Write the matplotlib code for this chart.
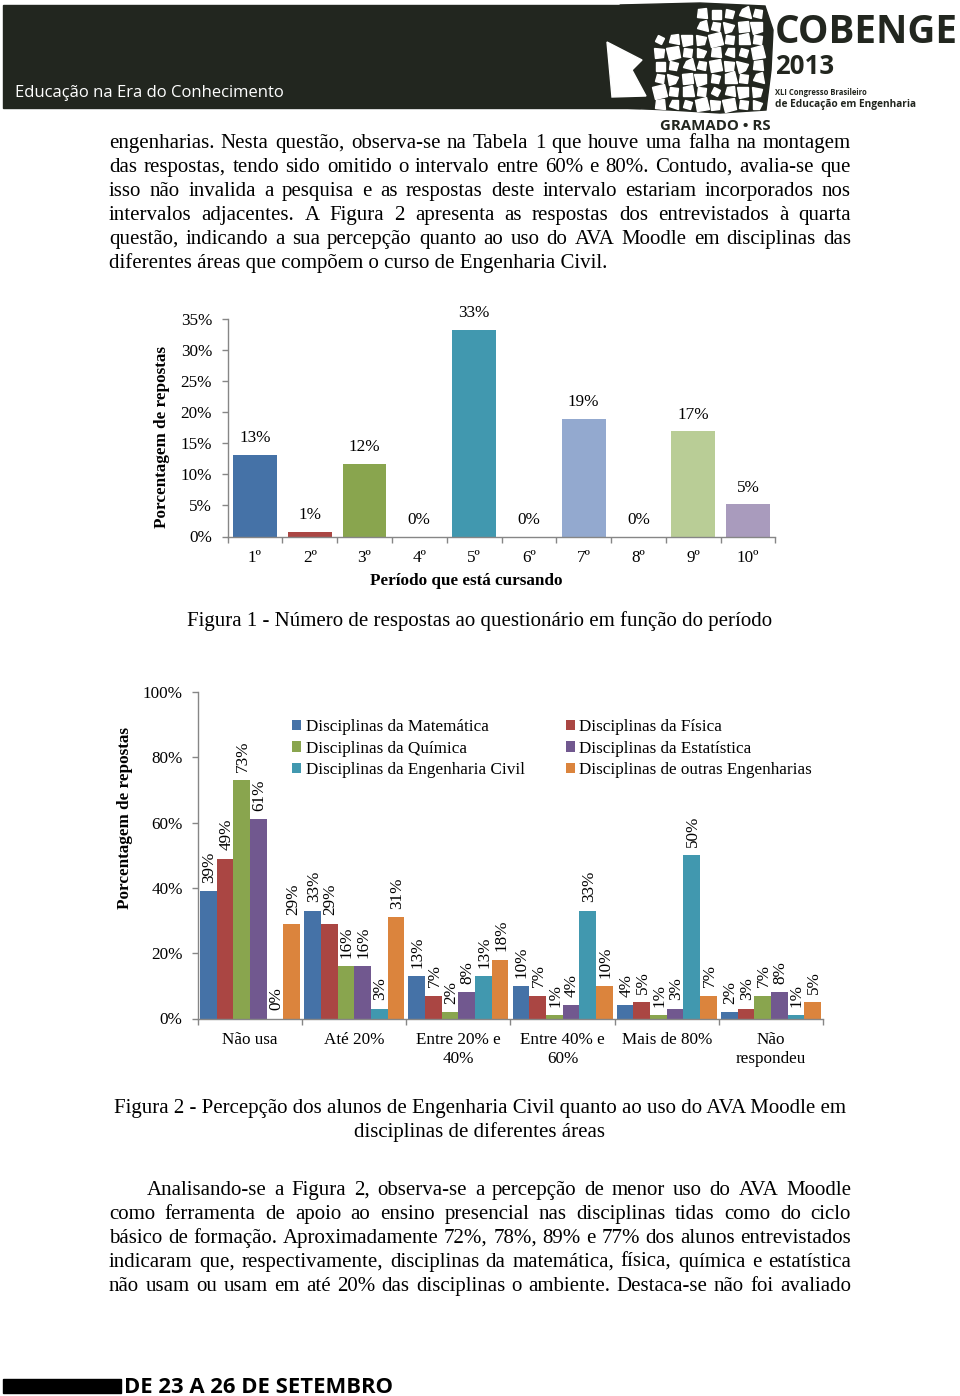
#!/usr/bin/env python3
"""Recreate COBENGE 2013 page with Figuras 1 e 2 (respostas por período / uso do AVA)."""

import numpy as np
import matplotlib

matplotlib.use("Agg")
import matplotlib.pyplot as plt
from matplotlib.font_manager import FontProperties
from matplotlib.patches import Polygon, Rectangle

W, H = 960, 1396

# ---- Figura 1 data ----
periodos = ["1º", "2º", "3º", "4º", "5º", "6º", "7º", "8º", "9º", "10º"]
resp_periodo = [13.1, 0.7, 11.7, 0.0, 33.3, 0.0, 18.9, 0.0, 16.9, 5.2]
cores_periodo = ["#4572A7", "#AA4643", "#89A54E", "#71588F", "#4198AF",
                 "#DB843D", "#93A9CF", "#D19392", "#B9CD96", "#A99BBD"]

# ---- Figura 2 data ----
faixas_uso = ["Não usa", "Até 20%", "Entre 20% e\n40%", "Entre 40% e\n60%",
              "Mais de 80%", "Não\nrespondeu"]
series_nomes = ["Disciplinas da Matemática", "Disciplinas da Física",
                "Disciplinas da Química", "Disciplinas da Estatística",
                "Disciplinas da Engenharia Civil", "Disciplinas de outras Engenharias"]
uso_matematica = [39, 33, 13, 10, 4, 2]
uso_fisica = [49, 29, 7, 7, 5, 3]
uso_quimica = [73, 16, 2, 1, 1, 7]
uso_estatistica = [61, 16, 8, 4, 3, 8]
uso_eng_civil = [0, 3, 13, 33, 50, 1]
uso_outras = [29, 31, 18, 10, 7, 5]
cores_series = ["#4572A7", "#AA4643", "#89A54E", "#71588F", "#4198AF", "#DB843D"]

# ---- page text ----
paragrafo1 = [
    "engenharias. Nesta questão, observa-se na Tabela 1 que houve uma falha na montagem",
    "das respostas, tendo sido omitido o intervalo entre 60% e 80%. Contudo, avalia-se que",
    "isso não invalida a pesquisa e as respostas deste intervalo estariam incorporados nos",
    "intervalos adjacentes. A Figura 2 apresenta as respostas dos entrevistados à quarta",
    "questão, indicando a sua percepção quanto ao uso do AVA Moodle em disciplinas das",
    "diferentes áreas que compõem o curso de Engenharia Civil.",
]
paragrafo2 = [
    "Analisando-se a Figura 2, observa-se a percepção de menor uso do AVA Moodle",
    "como ferramenta de apoio ao ensino presencial nas disciplinas tidas como do ciclo",
    "básico de formação. Aproximadamente 72%, 78%, 89% e 77% dos alunos entrevistados",
    "indicaram que, respectivamente, disciplinas da matemática, física, química e estatística",
    "não usam ou usam em até 20% das disciplinas o ambiente. Destaca-se não foi avaliado",
]
legenda1 = "Figura 1 - Número de respostas ao questionário em função do período"
legenda2 = ["Figura 2 - Percepção dos alunos de Engenharia Civil quanto ao uso do AVA Moodle em",
            "disciplinas de diferentes áreas"]

SERIF = ["Liberation Serif", "DejaVu Serif"]
SANS = ["Open Sans", "DejaVu Sans"]
DARK = "#22261f"
AXIS_GREY = "#868686"
CHART_FS = 12.3

plt.rcParams["font.family"] = SERIF


def fx(x):
    return x / W


def fy(y):
    return 1 - y / H


def text_width(renderer, s, prop):
    w, _, _ = renderer.get_text_width_height_descent(s, prop, ismath=False)
    return w


def fit_text(fig, renderer, s, x0, x1, y, family, weight="normal", color="black"):
    """Place a text so that it spans from x0 to x1 pixels on baseline y."""
    prop = FontProperties(family=family, weight=weight, size=10)
    size = 10 * (x1 - x0) / text_width(renderer, s, prop)
    fig.text(fx(x0), fy(y), s, family=family, weight=weight, size=size,
             color=color, ha="left", va="baseline")


def justified(fig, renderer, line, x0, x1, y, prop):
    words = line.split(" ")
    widths = [text_width(renderer, w, prop) for w in words]
    gap = (x1 - x0 - sum(widths)) / (len(words) - 1)
    x = x0
    for word, wd in zip(words, widths):
        fig.text(fx(x), fy(y), word, fontproperties=prop, ha="left", va="baseline")
        x += wd + gap


def draw_header(fig, renderer):
    fig.patches.append(Rectangle((fx(3), fy(108)), fx(640) - fx(3), (108 - 5) / H,
                                 transform=fig.transFigure, color=DARK, zorder=1))
    blob = [(620, 5), (700, 3), (765, 6), (773, 30), (771, 70), (766, 110),
            (720, 113), (670, 110), (620, 108)]
    fig.patches.append(Polygon([(fx(a), fy(b)) for a, b in blob], closed=True,
                               transform=fig.transFigure, color=DARK, zorder=1))
    # white cells of the mosaic logo
    jit = [-2, 1, 3, -1, 0, 2, -3, 1]
    for i, cx in enumerate(range(660, 766, 14)):
        for j, cy in enumerate(range(14, 108, 13)):
            if cx < 690 and cy < 35:
                continue
            d = jit[(i * 3 + j) % 8]
            e = jit[(i + j * 5) % 8]
            s = 4.5
            pts = [(cx - s + d, cy - s), (cx + s, cy - s + e),
                   (cx + s - e, cy + s), (cx - s, cy + s - d)]
            fig.patches.append(Polygon([(fx(a), fy(b)) for a, b in pts], closed=True,
                                       transform=fig.transFigure, color="white", zorder=2))
    notch = [(607, 42), (642, 60), (632, 70), (646, 96), (612, 97)]
    fig.patches.append(Polygon([(fx(a), fy(b)) for a, b in notch], closed=True,
                               transform=fig.transFigure, color="white", zorder=2))

    fit_text(fig, renderer, "Educação na Era do Conhecimento", 15, 285, 97, SANS, color="white")
    fit_text(fig, renderer, "COBENGE", 775, 957, 43, SANS, weight="bold", color=DARK)
    fit_text(fig, renderer, "2013", 775, 834, 74, SANS, weight="bold", color=DARK)
    fit_text(fig, renderer, "XLI Congresso Brasileiro", 775, 866, 95, SANS, weight="bold", color=DARK)
    fit_text(fig, renderer, "de Educação em Engenharia", 775, 916, 107, SANS, weight="bold", color=DARK)
    fit_text(fig, renderer, "GRAMADO • RS", 660, 770, 130, SANS, weight="bold", color=DARK)

    fig.patches.append(Rectangle((fx(3), fy(1393)), fx(121) - fx(3), 14 / H,
                                 transform=fig.transFigure, color="black", zorder=1))
    fit_text(fig, renderer, "DE 23 A 26 DE SETEMBRO", 124, 392, 1393, SANS, weight="bold")


def style_axes(ax):
    for side in ("top", "right"):
        ax.spines[side].set_visible(False)
    for side in ("left", "bottom"):
        ax.spines[side].set_color(AXIS_GREY)
        ax.spines[side].set_linewidth(1.0)
    ax.tick_params(axis="y", length=4, width=1, color=AXIS_GREY, pad=7,
                   labelsize=CHART_FS)
    ax.tick_params(axis="x", which="major", length=0, labelsize=CHART_FS)
    ax.tick_params(axis="x", which="minor", length=4, width=1, color=AXIS_GREY)


def draw_fig1(fig):
    ax = fig.add_axes([fx(227.5), fy(536.5), (775.5 - 227.5) / W, (536.5 - 319) / H])
    x = np.arange(len(periodos))
    ax.bar(x, resp_periodo, width=0.8, color=cores_periodo)
    for xi, v in zip(x, resp_periodo):
        ax.annotate(f"{round(v)}%", (xi, v), xytext=(0, 12), textcoords="offset points",
                    ha="center", va="center", fontsize=CHART_FS)
    ax.set_xlim(-0.5, len(periodos) - 0.5)
    ax.set_ylim(0, 35)
    ax.set_yticks(np.arange(0, 36, 5))
    ax.set_yticklabels([f"{v}%" for v in range(0, 36, 5)])
    ax.set_xticks(x)
    ax.set_xticklabels(periodos)
    ax.set_xticks(np.arange(-0.5, len(periodos)), minor=True)
    style_axes(ax)
    ax.tick_params(axis="x", which="major", pad=10)
    fig.text(fx(466), fy(581), "Período que está cursando", ha="center", va="center",
             fontsize=CHART_FS, weight="bold")
    fig.text(fx(162), fy(437), "Porcentagem de repostas", ha="center", va="center",
             rotation=90, fontsize=CHART_FS, weight="bold")


def draw_fig2(fig):
    ax = fig.add_axes([fx(198), fy(1018.5), (823 - 198) / W, (1018.5 - 692) / H])
    dados = [uso_matematica, uso_fisica, uso_quimica, uso_estatistica, uso_eng_civil, uso_outras]
    x = np.arange(len(faixas_uso))
    bw = 0.16
    handles = []
    for k, (vals, cor) in enumerate(zip(dados, cores_series)):
        pos = x - 0.48 + bw * (k + 0.5)
        bars = ax.bar(pos, vals, width=bw, color=cor, label=series_nomes[k])
        handles.append(bars)
        for p, v in zip(pos, vals):
            ax.annotate(f"{v}%", (p, v), xytext=(0.8, 6), textcoords="offset points",
                        ha="center", va="bottom", rotation=90, fontsize=CHART_FS)
    ax.set_xlim(-0.5, len(faixas_uso) - 0.5)
    ax.set_ylim(0, 100)
    ax.set_yticks(np.arange(0, 101, 20))
    ax.set_yticklabels([f"{v}%" for v in range(0, 101, 20)])
    ax.set_xticks(x)
    ax.set_xticklabels(faixas_uso, linespacing=1.25)
    ax.set_xticks(np.arange(-0.5, len(faixas_uso)), minor=True)
    style_axes(ax)
    ax.tick_params(axis="x", which="major", pad=10)

    order = [0, 2, 4, 1, 3, 5]
    ax.legend([handles[i] for i in order], [series_nomes[i] for i in order], ncol=2,
              loc="upper left", bbox_to_anchor=(fx(292), fy(719)),
              bbox_transform=fig.transFigure, frameon=False, fontsize=CHART_FS,
              handlelength=0.55, handleheight=0.55, handletextpad=0.25,
              labelspacing=0.33, columnspacing=2.4, borderpad=0, borderaxespad=0)
    fig.text(fx(125), fy(818), "Porcentagem de repostas", ha="center", va="center",
             rotation=90, fontsize=CHART_FS, weight="bold")


def main():
    fig = plt.figure(figsize=(W / 100, H / 100), dpi=100)
    renderer = fig.canvas.get_renderer()

    draw_header(fig, renderer)

    prop = FontProperties(family=SERIF, size=10)
    size = 10 * (607 - 109) / text_width(renderer, paragrafo1[-1], prop)
    prop = FontProperties(family=SERIF, size=size)

    for i, line in enumerate(paragrafo1):
        y = 148 + 24 * i
        if i == len(paragrafo1) - 1:
            fig.text(fx(109), fy(y), line, fontproperties=prop, ha="left", va="baseline")
        else:
            justified(fig, renderer, line, 109, 851, y, prop)

    for i, line in enumerate(paragrafo2):
        x0 = 147 if i == 0 else 109
        justified(fig, renderer, line, x0, 851, 1195 + 24 * i, prop)

    fig.text(0.5, fy(626), legenda1, fontproperties=prop, ha="center", va="baseline")
    for i, line in enumerate(legenda2):
        fig.text(0.5, fy(1113 + 24 * i), line, fontproperties=prop, ha="center", va="baseline")

    draw_fig1(fig)
    draw_fig2(fig)

    fig.savefig("out.png", dpi=100)
    plt.close(fig)


if __name__ == "__main__":
    main()
